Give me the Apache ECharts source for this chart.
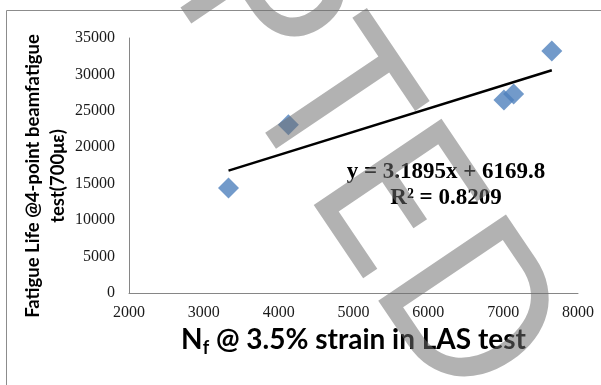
<!DOCTYPE html>
<html>
<head>
<meta charset="utf-8">
<script src="https://cdn.jsdelivr.net/npm/echarts@6/dist/echarts.min.js"></script>
<style>
  html, body { margin: 0; padding: 0; background: #fff; }
  #chart { width: 601px; height: 385px; }
</style>
</head>
<body>
<div id="chart"></div>
<script>
// LAS fatigue cycles vs 4-point beam fatigue life
const lasCycles = [3330, 4130, 7010, 7140, 7650];
const beamLife = [14400, 23100, 26500, 27300, 33200];
// linear trendline end points
const trendX = [3330, 7650];
const trendY = [16800, 30570];
const xTicks = [2000, 8000, 1000];
const yTicks = [0, 35000, 5000];
const eqText = 'y = 3.1895x + 6169.8\nR\u00b2 = 0.8209';

const chart = echarts.init(document.getElementById('chart'));
const grey = '#868686';

// watermark: rotated "ACCEPTED MANUSCRIPT", split at the T
const wmAngle = -56 * Math.PI / 180;
const wmStyle = {
  fontFamily: 'Lato', fontSize: 215,
  fill: 'rgba(110,110,110,0.53)', verticalAlign: 'middle'
};

chart.setOption({
  animation: false,
  grid: { left: 129, right: 23, top: 38, bottom: 92 },
  xAxis: {
    type: 'value',
    min: xTicks[0], max: xTicks[1], interval: xTicks[2],
    splitLine: { show: false },
    axisTick: { show: false },
    axisLine: { lineStyle: { color: grey, width: 1 } },
    axisLabel: {
      fontFamily: 'Liberation Serif', fontSize: 16, color: '#1a1a1a', margin: 12,
      formatter: v => String(v)
    },
    name: '{n|N}{s|f}{n| @ 3.5% strain in LAS test}',
    nameLocation: 'middle',
    nameGap: 27,
    nameTextStyle: {
      rich: {
        n: { fontFamily: 'Lato', fontWeight: 'bold', fontSize: 28, lineHeight: 34, color: '#000' },
        s: { fontFamily: 'Lato', fontWeight: 'bold', fontSize: 18, lineHeight: 20, verticalAlign: 'bottom', color: '#000' }
      }
    }
  },
  yAxis: {
    type: 'value',
    min: yTicks[0], max: yTicks[1], interval: yTicks[2],
    splitLine: { show: false },
    axisTick: { show: false },
    axisLine: { show: true, lineStyle: { color: grey, width: 1 } },
    axisLabel: {
      fontFamily: 'Liberation Serif', fontSize: 16, color: '#1a1a1a', margin: 14,
      formatter: v => String(v)
    }
  },
  series: [
    {
      type: 'line',
      data: trendX.map((x, i) => [x, trendY[i]]),
      showSymbol: false,
      lineStyle: { color: '#000', width: 2.5 },
      z: 2
    },
    {
      type: 'scatter',
      data: lasCycles.map((x, i) => [x, beamLife[i]]),
      symbol: 'diamond',
      symbolSize: 21,
      itemStyle: { color: '#4F81BD' },
      z: 3
    }
  ],
  graphic: [
    {
      type: 'rect',
      shape: { x: 6.5, y: 10.5, width: 700, height: 500 },
      style: { fill: 'none', stroke: '#8c8c8c', lineWidth: 1 },
      silent: true, z: 0
    },
    {
      type: 'text',
      x: 46, y: 176,
      rotation: Math.PI / 2,
      style: {
        text: 'Fatigue Life @4-point beamfatigue\ntest(700\u03bc\u03b5)',
        fontFamily: 'Lato', fontWeight: 'bold', fontSize: 18.5, lineHeight: 25,
        fill: '#000', align: 'center', verticalAlign: 'middle'
      },
      z: 10
    },
    {
      type: 'text',
      x: 446, y: 185,
      style: {
        text: eqText,
        fontFamily: 'Liberation Serif', fontWeight: 'bold', fontSize: 23, lineHeight: 26,
        fill: '#000', align: 'center', verticalAlign: 'middle'
      },
      z: 10
    },
    {
      type: 'text',
      x: 295, y: 53, rotation: wmAngle, scaleX: 0.93,
      style: Object.assign({ text: 'ACCEP', align: 'right' }, wmStyle),
      silent: true, z: 100
    },
    {
      type: 'text',
      x: 295, y: 53, rotation: wmAngle, scaleX: 0.93,
      style: Object.assign({ text: 'TED MANUSCRIPT', align: 'left' }, wmStyle),
      silent: true, z: 100
    }
  ]
});
</script>
</body>
</html>
